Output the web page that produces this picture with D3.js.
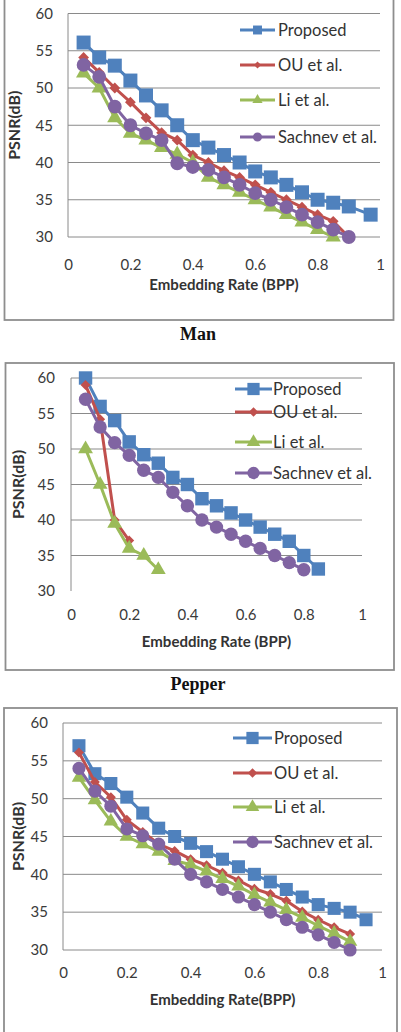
<!DOCTYPE html>
<html>
<head>
<meta charset="utf-8">
<script src="https://cdn.jsdelivr.net/npm/d3@7"></script>
<style>
  body { margin: 0; background: #ffffff; }
  svg { display: block; font-family: Lato, "Liberation Sans", sans-serif; }
</style>
</head>
<body>
<div id="chart"></div>
<script>
// ---------------------------------------------------------------------------
// Données

const seriesNames = ["Proposed", "OU et al.", "Li et al.", "Sachnev et al."];
const seriesColors = ["#4F81BD", "#C0504D", "#9BBB59", "#8064A2"];
const xTicks = [0, 0.2, 0.4, 0.6, 0.8, 1];
const yTicks = [30, 35, 40, 45, 50, 55, 60];

// taux d'insertion (BPP)
const rates = [0.05, 0.1, 0.15, 0.2, 0.25, 0.3, 0.35, 0.4, 0.45, 0.5,
  0.55, 0.6, 0.65, 0.7, 0.75, 0.8, 0.85, 0.9, 0.95];
const manProposedRates = [0.05, 0.1, 0.15, 0.2, 0.25, 0.3, 0.35, 0.4, 0.45, 0.5,
  0.55, 0.6, 0.65, 0.7, 0.75, 0.8, 0.85, 0.9, 0.97];

// Man
const manProposed = [56.1, 54.1, 53, 51, 49, 47, 45, 43, 42, 41, 40, 38.8, 38, 37, 36, 35, 34.6, 34.1, 33];
const manOU = [54.1, 52.1, 50, 48.1, 46, 44, 43, 41, 40, 38.9, 38, 37, 36, 35, 34, 33, 32.1, 30];
const manLi = [52, 50, 46, 43.9, 43, 42, 41.1, 40, 38, 37, 36, 35, 34, 33, 32, 31, 30];
const manSachnev = [53.1, 51.5, 47.5, 45, 43.9, 43, 39.9, 39.4, 39, 38, 37, 35.9, 35, 34, 33, 32, 31, 30];

// Pepper
const pepperProposed = [60, 56, 54, 51, 49.2, 48, 46, 45, 43, 42, 41, 40, 39, 38, 37, 35, 33.1];
const pepperOU = [59, 54.2, 40, 37.1];
const pepperLi = [50, 45, 39.5, 36, 35, 33];
const pepperSachnev = [57, 53.1, 50.9, 49.1, 47, 46, 43.9, 42, 40, 39, 38, 37, 36, 35, 34, 33];

// troisième image
const thirdProposed = [57, 53.3, 52, 50.2, 48.1, 46.1, 45, 44.1, 43, 42, 41, 40, 39, 38, 37, 36, 35.5, 35, 34];
const thirdOU = [56.1, 52.2, 50.2, 47.2, 45.6, 44, 43.1, 42, 41.2, 40.2, 39.2, 38.1, 37.4, 36.5, 35.1, 34, 33, 32.1];
const thirdLi = [52.8, 49.8, 47, 45, 44, 43, 41.8, 41.3, 40.4, 39.4, 38.4, 37.3, 36.3, 35.3, 34.3, 33.2, 32.2, 31.1];
const thirdSachnev = [54, 51, 49, 46, 45.1, 44, 42, 40, 39, 38, 37, 36, 35, 34, 33, 32, 31, 30];

// ---------------------------------------------------------------------------
// Canevas

const width = 401;
const height = 1032;

const svg = d3.select("#chart")
  .append("svg")
  .attr("width", width)
  .attr("height", height)
  .attr("viewBox", [0, 0, width, height]);

// symboles des marqueurs (carré, losange, triangle, rond)
const markers = [
  { type: d3.symbolSquare, rotate: 0 },
  { type: d3.symbolSquare, rotate: 45 },
  { type: d3.symbolTriangle, rotate: 0 },
  { type: d3.symbolCircle, rotate: 0 },
];

// ---------------------------------------------------------------------------
// Configuration des trois graphiques

const panels = [
  {
    frame: { x: 4.5, y: -5, w: 389, h: 325 },
    plot: { left: 68, right: 380, top: 13.5, bottom: 237 },
    grid30: true,
    series: [
      { x: manProposedRates, y: manProposed },
      { x: rates, y: manOU },
      { x: rates, y: manLi },
      { x: rates, y: manSachnev },
    ],
    markerSize: [196, 58, 100, 150],
    legend: { x0: 240, x1: 275, tx: 278, ys: [30, 65, 100, 137], sizes: [80, 26, 45, 65] },
    yLabelX: 53,
    xLabelDy: 28,
    xTitle: "Embedding Rate (BPP)",
    xTitleY: 285,
    yTitleX: 14,
    caption: "Man",
    captionY: 334,
  },
  {
    frame: { x: 5.5, y: 363, w: 388.5, h: 307 },
    plot: { left: 71, right: 362, top: 378, bottom: 591 },
    grid30: false,
    series: [
      { x: rates, y: pepperProposed },
      { x: rates, y: pepperOU },
      { x: rates, y: pepperLi },
      { x: rates, y: pepperSachnev },
    ],
    markerSize: [180, 50, 95, 140],
    legend: { x0: 235, x1: 272, tx: 273, ys: [389, 412, 442, 473], sizes: [150, 44, 80, 120] },
    yLabelX: 55,
    xLabelDy: 24,
    xTitle: "Embedding Rate (BPP)",
    xTitleY: 642,
    yTitleX: 18,
    caption: "Pepper",
    captionY: 684,
  },
  {
    frame: { x: 4, y: 708, w: 393, h: 400 },
    plot: { left: 63, right: 382, top: 723, bottom: 950 },
    grid30: true,
    series: [
      { x: rates, y: thirdProposed },
      { x: rates, y: thirdOU },
      { x: rates, y: thirdLi },
      { x: rates, y: thirdSachnev },
    ],
    markerSize: [170, 50, 90, 135],
    legend: { x0: 233, x1: 272, tx: 274, ys: [738, 773, 807, 842], sizes: [150, 44, 80, 120] },
    yLabelX: 48,
    xLabelDy: 23,
    xTitle: "Embedding Rate(BPP)",
    xTitleY: 1000,
    yTitleX: 18,
    caption: null,
  },
];

// ---------------------------------------------------------------------------
// Dessin d'un graphique

function drawPanel(cfg) {
  const p = cfg.plot;
  const g = svg.append("g");

  const x = d3.scaleLinear().domain([0, 1]).range([p.left, p.right]);
  const y = d3.scaleLinear().domain([30, 60]).range([p.bottom, p.top]);

  // cadre
  g.append("rect")
    .attr("x", cfg.frame.x)
    .attr("y", cfg.frame.y)
    .attr("width", cfg.frame.w)
    .attr("height", cfg.frame.h)
    .attr("fill", "none")
    .attr("stroke", "#8e8e8e")
    .attr("stroke-width", 1.8);

  // grille horizontale
  g.append("g")
    .selectAll("line")
    .data(yTicks.filter(d => cfg.grid30 || d !== 30))
    .join("line")
    .attr("x1", p.left)
    .attr("x2", p.right)
    .attr("y1", d => y(d))
    .attr("y2", d => y(d))
    .attr("stroke", "#8a8a8a")
    .attr("stroke-width", 1);

  // axe vertical
  g.append("line")
    .attr("x1", p.left)
    .attr("x2", p.left)
    .attr("y1", p.top)
    .attr("y2", p.bottom)
    .attr("stroke", "#8a8a8a")
    .attr("stroke-width", 1);

  // libellés de l'axe Y
  const yAxis = g.append("g")
    .attr("transform", `translate(${cfg.yLabelX}, 0)`)
    .call(d3.axisLeft(y).tickValues(yTicks).tickSize(0).tickPadding(0).tickFormat(d3.format("d")));
  yAxis.select(".domain").remove();
  yAxis.selectAll("text")
    .style("font-family", "Lato, sans-serif")
    .style("font-size", "15px")
    .attr("fill", "#3a3a3a");

  // libellés de l'axe X
  const xAxis = g.append("g")
    .attr("transform", `translate(0, ${p.bottom})`)
    .call(d3.axisBottom(x).tickValues(xTicks).tickSize(0).tickPadding(0).tickFormat(d3.format("~g")));
  xAxis.select(".domain").remove();
  xAxis.selectAll("text")
    .attr("dy", null)
    .attr("y", cfg.xLabelDy + 5)
    .style("font-family", "Lato, sans-serif")
    .style("font-size", "15px")
    .attr("fill", "#3a3a3a");

  // courbes et marqueurs
  const line = d3.line()
    .x(d => x(d[0]))
    .y(d => y(d[1]));

  cfg.series.forEach((s, i) => {
    const pts = s.y.map((v, j) => [s.x[j], v]);
    const sg = g.append("g");

    sg.append("path")
      .attr("d", line(pts))
      .attr("fill", "none")
      .attr("stroke", seriesColors[i])
      .attr("stroke-width", 3)
      .attr("stroke-linejoin", "round");

    sg.selectAll("path.mk")
      .data(pts)
      .join("path")
      .attr("class", "mk")
      .attr("d", d3.symbol().type(markers[i].type).size(cfg.markerSize[i]))
      .attr("transform", d => `translate(${x(d[0])}, ${y(d[1])}) rotate(${markers[i].rotate})`)
      .attr("fill", seriesColors[i]);
  });

  // légende
  const lg = cfg.legend;
  seriesNames.forEach((name, i) => {
    const ly = lg.ys[i];
    g.append("line")
      .attr("x1", lg.x0)
      .attr("x2", lg.x1)
      .attr("y1", ly)
      .attr("y2", ly)
      .attr("stroke", seriesColors[i])
      .attr("stroke-width", 3);

    g.append("path")
      .attr("d", d3.symbol().type(markers[i].type).size(lg.sizes[i]))
      .attr("transform", `translate(${(lg.x0 + lg.x1) / 2}, ${ly}) rotate(${markers[i].rotate})`)
      .attr("fill", seriesColors[i]);

    g.append("text")
      .attr("x", lg.tx)
      .attr("y", ly)
      .attr("dy", "0.35em")
      .style("font-size", "16.5px")
      .attr("fill", "#333333")
      .text(name);
  });

  // titres des axes
  g.append("text")
    .attr("x", (p.left + p.right) / 2)
    .attr("y", cfg.xTitleY)
    .attr("dy", "0.35em")
    .attr("text-anchor", "middle")
    .style("font-size", "15px")
    .style("font-weight", "bold")
    .attr("fill", "#333333")
    .text(cfg.xTitle);

  g.append("text")
    .attr("transform", `translate(${cfg.yTitleX}, ${(p.top + p.bottom) / 2}) rotate(-90)`)
    .attr("dy", "0.35em")
    .attr("text-anchor", "middle")
    .style("font-size", "16px")
    .style("font-weight", "bold")
    .attr("fill", "#333333")
    .text("PSNR(dB)");

  // nom de l'image
  if (cfg.caption) {
    svg.append("text")
      .attr("x", 198)
      .attr("y", cfg.captionY)
      .attr("dy", "0.35em")
      .attr("text-anchor", "middle")
      .style("font-family", "'Liberation Serif', 'DejaVu Serif', serif")
      .style("font-size", "18px")
      .style("font-weight", "bold")
      .attr("fill", "#111111")
      .text(cfg.caption);
  }
}

panels.forEach(drawPanel);
</script>
</body>
</html>
